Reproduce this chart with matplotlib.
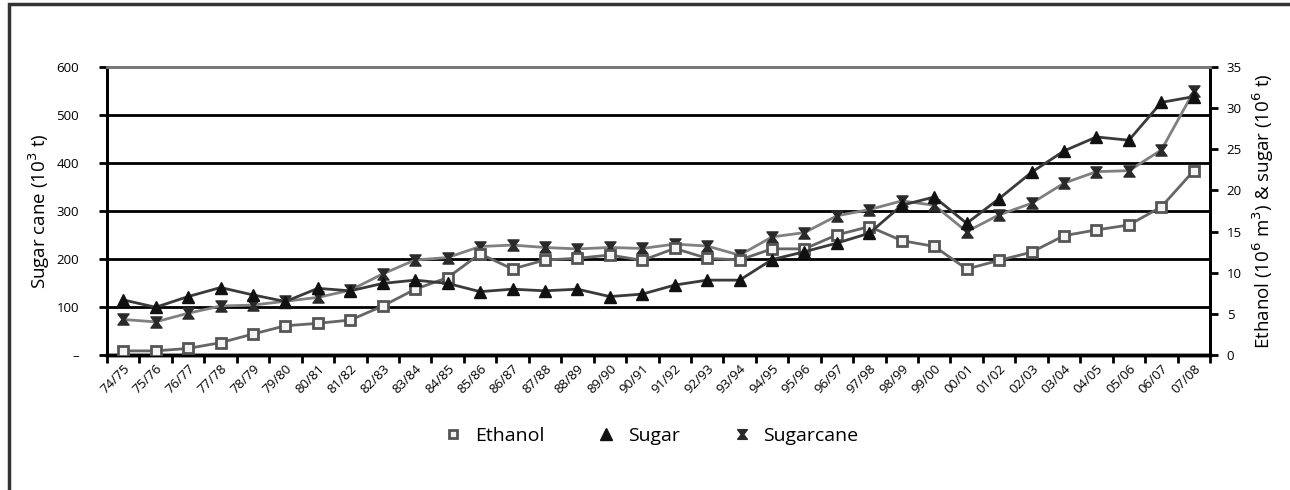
import numpy as np
import matplotlib
matplotlib.use('Agg')
import matplotlib.pyplot as plt
from matplotlib.path import Path
from matplotlib.patches import Rectangle

plt.rcParams['font.family'] = ['Open Sans', 'DejaVu Sans']

seasons = ['74/75', '75/76', '76/77', '77/78', '78/79', '79/80', '80/81', '81/82',
           '82/83', '83/84', '84/85', '85/86', '86/87', '87/88', '88/89', '89/90',
           '90/91', '91/92', '92/93', '93/94', '94/95', '95/96', '96/97', '97/98',
           '98/99', '99/00', '00/01', '01/02', '02/03', '03/04', '04/05', '05/06',
           '06/07', '07/08']

# sugarcane on left axis (10^3 t)
sugarcane = [74, 69, 87, 102, 104, 112, 120, 135, 169, 198, 203, 226, 229, 224,
             221, 224, 222, 231, 227, 208, 246, 255, 290, 303, 321, 312, 257,
             292, 316, 358, 382, 384, 427, 549]
# ethanol and sugar on right axis
ethanol = [0.5, 0.5, 0.8, 1.5, 2.55, 3.55, 3.85, 4.25, 5.95, 8.0, 9.4, 12.3,
           10.45, 11.55, 11.75, 12.15, 11.5, 12.95, 11.75, 11.55, 12.9, 12.9,
           14.6, 15.6, 13.9, 13.2, 10.45, 11.5, 12.5, 14.5, 15.2, 15.8, 18.0, 22.4]
sugar = [6.7, 5.8, 7.1, 8.2, 7.3, 6.5, 8.1, 7.8, 8.7, 9.1, 8.7, 7.7, 8.0, 7.8,
         8.0, 7.1, 7.4, 8.5, 9.1, 9.1, 11.6, 12.55, 13.6, 14.8, 18.2, 19.2, 16.0,
         19.0, 22.2, 24.8, 26.5, 26.1, 30.7, 31.4]

hourglass = Path([(-1, 1), (1, 1), (0.25, 0), (1, -1), (-1, -1), (-0.25, 0), (-1, 1)],
                 [Path.MOVETO] + [Path.LINETO] * 5 + [Path.CLOSEPOLY])

fig = plt.figure(figsize=(12.9, 4.9), dpi=100)
fig.patches.append(Rectangle((9/1290, -0.1), 1.2, (490-4)/490 + 0.1, transform=fig.transFigure,
                             fill=False, edgecolor='#333333', lw=2.5))

ax = fig.add_axes([107/1290, (490-355)/490, (1210-107)/1290, (355-67)/490])
ax2 = ax.twinx()

x = np.arange(len(seasons)) + 0.5

ax.set_ylim(0, 600)
ax.set_xlim(0, len(seasons))
ax.set_yticks(range(0, 601, 100))
ax.set_yticklabels(['–', '100', '200', '300', '400', '500', '600'], fontsize=9.5)
for v in range(100, 600, 100):
    ax.axhline(v, color='black', lw=2, zorder=1)
ax.set_xticks(np.arange(len(seasons) + 1))
ax.set_xticklabels([])
ax.set_xticks(x, minor=True)
ax.set_xticklabels(seasons, minor=True, rotation=45, ha='right', rotation_mode='anchor',
                   fontsize=9.5)
ax.tick_params(axis='x', which='minor', length=0, pad=5)
ax.tick_params(axis='x', which='major', length=6, width=2, direction='out')
ax.tick_params(axis='y', length=6, width=2, pad=14)
ax.set_ylabel('Sugar cane (10$^3$ t)', fontsize=13.5)
ax.yaxis.set_label_coords((52 - 107) / 1103, 0.5)

ax2.set_ylim(0, 35)
ax2.set_yticks(range(0, 36, 5))
ax2.tick_params(axis='y', length=6, width=2, labelsize=9.5, pad=6)
ax2.set_ylabel('Ethanol (10$^6$ m$^3$) & sugar (10$^6$ t)', fontsize=13.5, labelpad=6)

for a in (ax, ax2):
    a.spines['left'].set_linewidth(2)
    a.spines['right'].set_linewidth(2)
    a.spines['bottom'].set_linewidth(2.5)
    a.spines['top'].set_color('#777777')
    a.spines['top'].set_linewidth(2)

l3, = ax.plot(x, sugarcane, color='#808080', lw=2, marker=hourglass, ms=8,
              mfc='#2a2a2a', mec='#2a2a2a', label='Sugarcane', zorder=3)
l1, = ax2.plot(x, ethanol, color='#666666', lw=2, marker='s', ms=7,
               mfc='#f4f4f4', mec='#555555', mew=2, label='Ethanol', zorder=3)
l2, = ax2.plot(x, sugar, color='#3a3a3a', lw=2, marker='^', ms=8,
               mfc='#111111', mec='#111111', label='Sugar', zorder=3)

h1 = plt.Line2D([], [], ls='none', marker='s', ms=6, mfc='#f4f4f4', mec='#555555', mew=2)
h2 = plt.Line2D([], [], ls='none', marker='^', ms=8, mfc='#111111', mec='#111111')
h3 = plt.Line2D([], [], ls='none', marker=hourglass, ms=7, mfc='#2a2a2a', mec='#2a2a2a')
fig.legend([h1, h2, h3], ['Ethanol', 'Sugar', 'Sugarcane'], loc='center',
           bbox_to_anchor=(650/1290, (490-436)/490), ncol=3, frameon=False,
           fontsize=14, columnspacing=2.6, handletextpad=0.5, handlelength=1.2)

fig.savefig('out.png', dpi=100)
